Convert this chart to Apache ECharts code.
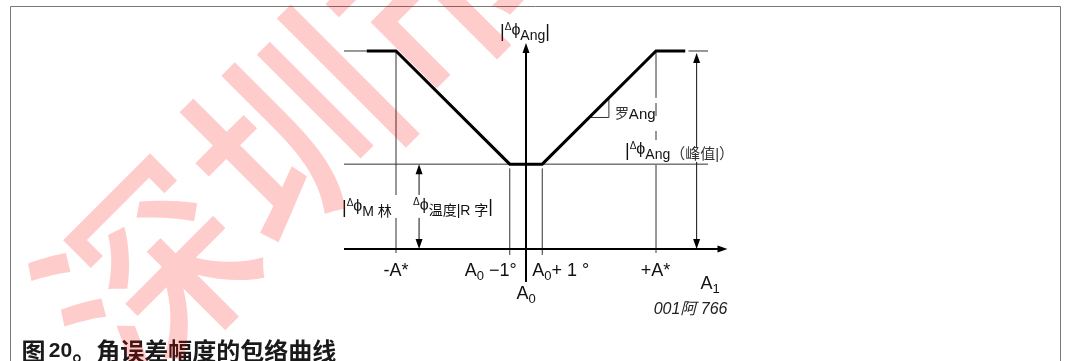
<!DOCTYPE html>
<html>
<head>
<meta charset="utf-8">
<script src="https://cdn.jsdelivr.net/npm/echarts@6/dist/echarts.min.js"></script>
<style>
  html, body { margin: 0; padding: 0; background: #fff; }
  #chart { width: 1066px; height: 361px; }
</style>
</head>
<body>
<div id="chart"></div>
<script>
// Horizontal unit: degrees of A1 measured from A0. Vertical unit: |Δϕ| (arbitrary units).
const aStar = 8;          // ±A*
const halfBand = 1;       // A0 ± 1°
const peakLevel = 7;      // |Δϕ_Ang (峰值)|
const floorLevel = 3;     // |Δϕ_温度| floor

// Envelope of |Δϕ_Ang| against A1
const envelopeA1 = [-9.8, -8, -1, 1, 8, 9.8];
const envelopePhi = [7, 7, 3, 3, 7, 7];

// Thin reference lines: [x1, y1, x2, y2]
const guideLines = [
  [-11.2, 7, -9.8, 7],
  [10, 7, 11.2, 7],
  [-11.2, 3, 11.2, 3],
  [-8, 7, -8, 1.91], [-8, 1.10, -8, -0.14],
  [-1, 2.85, -1, -0.21],
  [1, 2.85, 1, -0.21],
  [8, 7, 8, 5.34], [8, 5.16, 8, 4.70], [8, 4.17, 8, 3.85], [8, 2.97, 8, -0.14],
  [3.9, 4.65, 5.1, 4.65], [5.1, 4.65, 5.1, 5.34]
];

// Axes with arrow heads: [x1, y1, x2, y2, headAtStart, headAtEnd]
const axisLines = [
  [-11.2, 0, 12.4, 0, 0, 1],
  [0, -1.17, 0, 7.28, 0, 1]
];

// Dimension arrows (split where the labels sit)
const spanArrows = [
  [-6.58, 3, -6.58, 1.91, 1, 0], [-6.58, 1.10, -6.58, 0, 0, 1],
  [10.5, 6.93, 10.5, 3.57, 1, 0], [10.5, 3.08, 10.5, 0, 0, 1]
];

// Label texts (rich markup) and their anchor points
const labelTexts = [
  '{m|-A*}',
  '{m|A}{s|0}{m| −1°}',
  '{m|A}{s|0}{m|+ 1 °}',
  '{m|+A*}',
  '{m|A}{s|0}',
  '{m|A}{s|1}',
  '{i|001阿 766}',
  '{b||}{d|Δ}{p|ϕ}{q|Ang}{b||}',
  '{c|罗}{n|Ang}',
  '{b||}{d|Δ}{p|ϕ}{q|Ang}{r|（峰值|）}',
  '{b||}{d|Δ}{p|ϕ}{q|M 林}',
  '{d|Δ}{p|ϕ}{q|温度|R 字}{b||}'
];
const labelAnchors = [
  [-aStar, 0], [-halfBand, 0], [halfBand, 0], [aStar, 0], [0, 0],
  [12.4, 0], [12.4, 0], [0, 7.28], [5.1, 4.65], [aStar, floorLevel],
  [-11.2, floorLevel], [-6.58, floorLevel]
];

// Placement of each label relative to its anchor (pixels)
const labelLayout = [
  { align: 'center', dx: 0, dy: 22.5 },
  { align: 'right', dx: 7, dy: 22.5 },
  { align: 'left', dx: -10, dy: 22.5 },
  { align: 'center', dx: -0.5, dy: 22.5 },
  { align: 'center', dx: 0, dy: 45.5 },
  { align: 'left', dx: -27, dy: 35.5 },
  { align: 'right', dx: 0, dy: 61 },
  { align: 'center', dx: -1, dy: -11 },
  { align: 'left', dx: 6, dy: -3 },
  { align: 'left', dx: -31, dy: -13 },
  { align: 'left', dx: -2, dy: 44 },
  { align: 'left', dx: -6, dy: 43 }
];

const LATIN = '"Liberation Sans", Arial, "DejaVu Sans", sans-serif';
const CJK = '"Liberation Sans", Arial, "Noto Sans CJK SC", sans-serif';
const INK = '#111';
const rich = {
  m: { fontSize: 18, fontFamily: LATIN, fill: INK },
  s: { fontSize: 13, fontFamily: LATIN, fill: INK, padding: [9.5, 0, 0, 0] },
  i: { fontSize: 16, fontFamily: CJK, fontStyle: 'italic', fill: '#222' },
  b: { fontSize: 18, fontFamily: LATIN, fill: INK },
  d: { fontSize: 10, fontFamily: LATIN, fill: INK, padding: [0, 0, 9, 0] },
  p: { fontSize: 16, fontFamily: LATIN, fill: INK, padding: [0, 0, 3, 0] },
  q: { fontSize: 14, fontFamily: CJK, fill: INK, padding: [8, 0, 0, 0] },
  r: { fontSize: 15, fontFamily: CJK, fill: '#333', padding: [8, 0, 0, 0] },
  c: { fontSize: 14, fontFamily: CJK, fill: '#333' },
  n: { fontSize: 15, fontFamily: LATIN, fill: INK }
};

const HEAD_LEN = 10;
const HEAD_W = 7;

function arrowHead(tip, ux, uy) {
  const bx = tip[0] - ux * HEAD_LEN;
  const by = tip[1] - uy * HEAD_LEN;
  const nx = -uy * HEAD_W / 2;
  const ny = ux * HEAD_W / 2;
  return {
    type: 'polygon',
    shape: { points: [[tip[0], tip[1]], [bx + nx, by + ny], [bx - nx, by - ny]] },
    style: { fill: '#000' }
  };
}

function segmentRenderer(width, color) {
  return function (params, api) {
    const p1 = api.coord([api.value(0), api.value(1)]);
    const p2 = api.coord([api.value(2), api.value(3)]);
    const hs = api.value(4), he = api.value(5);
    const dx = p2[0] - p1[0], dy = p2[1] - p1[1];
    const len = Math.hypot(dx, dy) || 1;
    const ux = dx / len, uy = dy / len;
    const a = hs ? [p1[0] + ux * HEAD_LEN * 0.7, p1[1] + uy * HEAD_LEN * 0.7] : p1;
    const b = he ? [p2[0] - ux * HEAD_LEN * 0.7, p2[1] - uy * HEAD_LEN * 0.7] : p2;
    const children = [{
      type: 'line',
      shape: { x1: a[0], y1: a[1], x2: b[0], y2: b[1] },
      style: { stroke: color, lineWidth: width }
    }];
    if (he) children.push(arrowHead(p2, ux, uy));
    if (hs) children.push(arrowHead(p1, -ux, -uy));
    return { type: 'group', children: children };
  };
}

function withHeads(rows) {
  return rows.map(r => r.length === 6 ? r : r.concat([0, 0]));
}

const chart = echarts.init(document.getElementById('chart'), null, { renderer: 'canvas' });

chart.setOption({
  animation: false,
  backgroundColor: '#fff',
  grid: { left: 331, right: 328.75, top: 22.714, bottom: 27.143, containLabel: false },
  xAxis: { type: 'value', min: -12, max: 13, show: false },
  yAxis: { type: 'value', min: -3, max: 8, show: false },
  graphic: [
    {
      type: 'rect', z: 1,
      shape: { x: 10.5, y: 6.5, width: 1050, height: 400 },
      style: { fill: 'none', stroke: '#777', lineWidth: 1 }
    },
    {
      type: 'text', z: 1, x: 21.5, y: 351,
      style: {
        text: '{c|图} {n|20}{c|。角误差幅度的包络曲线}',
        align: 'left', verticalAlign: 'middle',
        rich: {
          c: { fontSize: 24, fontWeight: 'bold', fontFamily: '"Noto Sans CJK SC", sans-serif', fill: '#1a1a1a' },
          n: { fontSize: 21, fontWeight: 'bold', fontFamily: LATIN, fill: '#1a1a1a' }
        }
      }
    },
    {
      type: 'text', z: 100, x: 293, y: 130, rotation: Math.PI / 4,
      style: {
        text: '深圳市',
        align: 'center', verticalAlign: 'middle',
        fontSize: 205, fontWeight: 500,
        fontFamily: '"Noto Sans CJK SC", sans-serif',
        fill: 'rgba(255,0,0,0.2)'
      }
    }
  ],
  series: [
    {
      type: 'custom', name: 'guides', clip: false, z: 2,
      data: withHeads(guideLines),
      renderItem: segmentRenderer(1, '#333')
    },
    {
      type: 'custom', name: 'spans', clip: false, z: 3,
      data: spanArrows,
      renderItem: segmentRenderer(1, '#111')
    },
    {
      type: 'custom', name: 'axes', clip: false, z: 3,
      data: axisLines,
      renderItem: segmentRenderer(2, '#000')
    },
    {
      type: 'line', name: 'envelope', z: 4,
      data: envelopeA1.map((x, i) => [x, envelopePhi[i]]),
      showSymbol: false, symbol: 'none',
      lineStyle: { color: '#000', width: 3, join: 'miter' }
    },
    {
      type: 'custom', name: 'labels', clip: false, z: 5,
      data: labelAnchors.map((p, i) => [p[0], p[1], i]),
      renderItem: function (params, api) {
        const i = api.value(2);
        const pt = api.coord([api.value(0), api.value(1)]);
        const lay = labelLayout[i];
        return {
          type: 'text',
          x: pt[0] + lay.dx,
          y: pt[1] + lay.dy,
          style: {
            text: labelTexts[i],
            rich: rich,
            align: lay.align, verticalAlign: 'middle',
            textAlign: lay.align, textVerticalAlign: 'middle'
          }
        };
      }
    }
  ]
});
</script>
</body>
</html>
